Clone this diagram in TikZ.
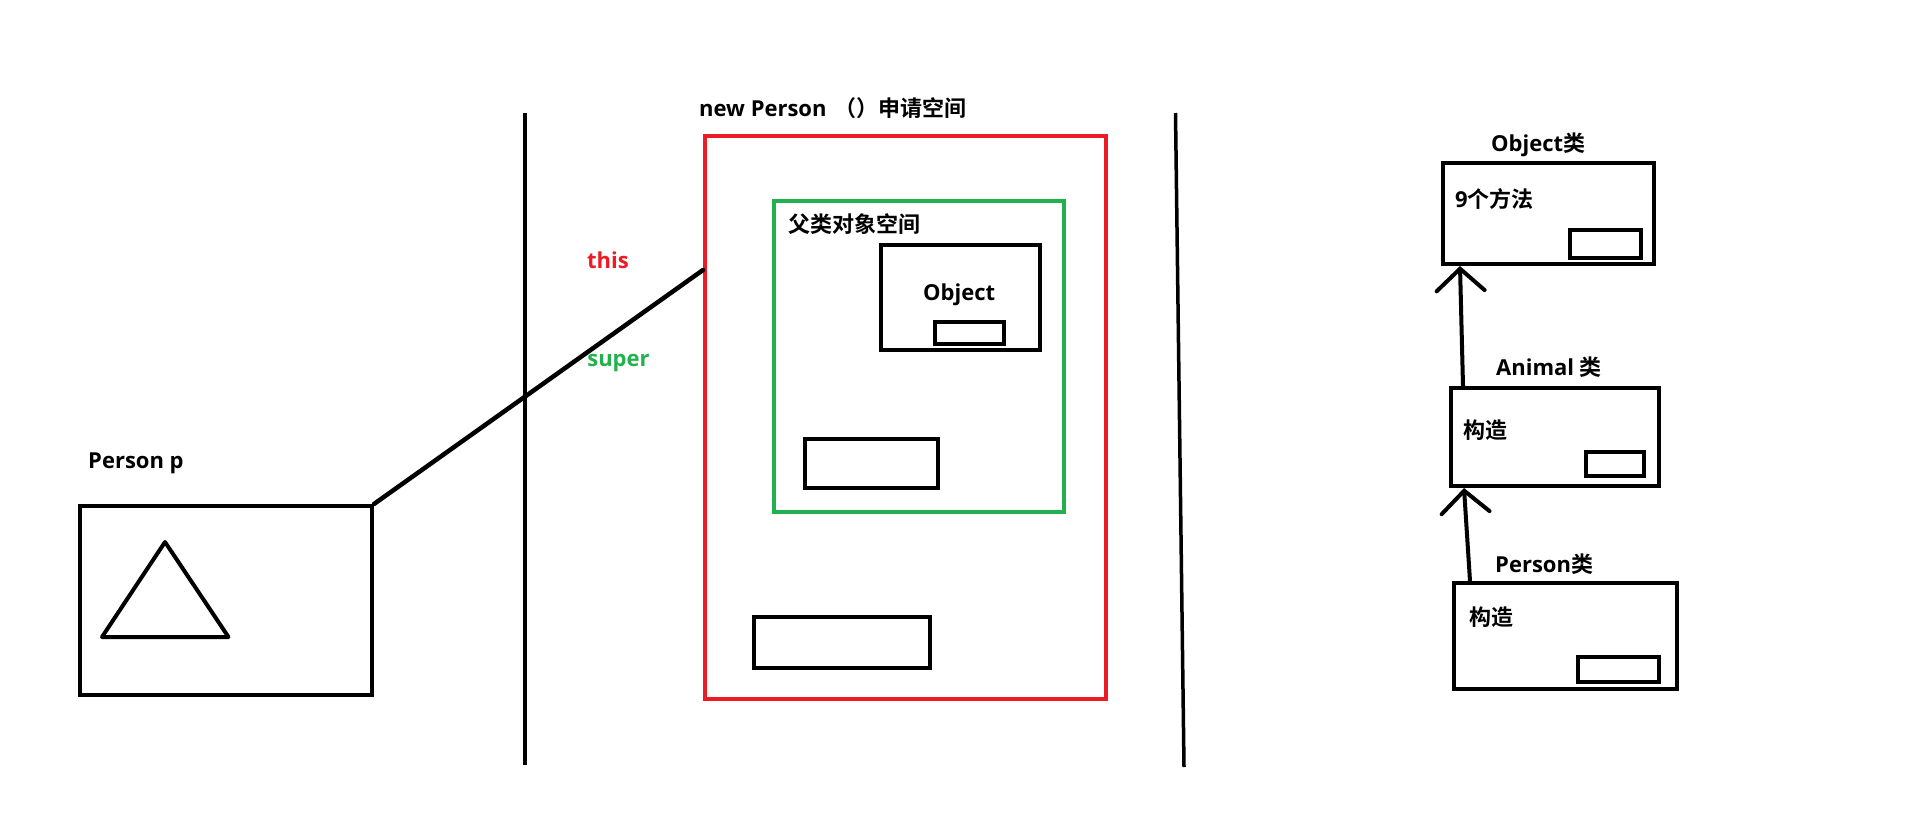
\documentclass[tikz,border=0pt]{standalone}
\usepackage{fontspec}
\setmainfont{Open Sans}
\newfontfamily\cjk{Noto Sans CJK SC}[BoldFont=* Bold]
\usetikzlibrary{arrows.meta}
\definecolor{pred}{HTML}{ED1C24}
\definecolor{pgreen}{HTML}{22B14C}
\begin{document}
\begin{tikzpicture}[x=1pt,y=-1pt,
  lbl/.style={inner sep=0pt,font=\fontsize{22}{26}\selectfont\bfseries},
  boxs/.style={draw,line width=4pt,inner sep=0pt,anchor=north west},
  vline/.style={line width=3.5pt},
  arr/.style={line width=4pt,-{Straight Barb[length=22pt,width=48pt,line cap=round]}}]
\useasboundingbox (0,0) rectangle (1914,817);
% dividers
\coordinate (v1t) at (525,113); \coordinate (v1b) at (525,765);
\coordinate (v2t) at (1175.5,113); \coordinate (v2b) at (1184,767);
\draw[vline] (v1t) -- (v1b);
\draw[vline] (v2t) -- (v2b);
% Person p
\node[lbl,anchor=base west] (plbl) at (88,468) {Person p};
\node[boxs,minimum width=292pt,minimum height=189pt] (pbox) at (78,504) {};
\coordinate (ta) at (165,542); \coordinate (tb) at (102,637); \coordinate (tc) at (228.5,637);
\draw[line width=4pt,line join=round] (ta) -- (tb) -- (tc) -- cycle;
% new Person
\node[lbl,anchor=base west] (newlbl) at (699,116) {new Person\hspace{8pt}{\cjk （）申请空间}};
\node[boxs,draw=pred,minimum width=401pt,minimum height=563pt] (redbox) at (703,134) {};
\node[boxs,draw=pgreen,minimum width=290pt,minimum height=311pt] (greenbox) at (772,199) {};
\node[lbl,anchor=base west] (fulbl) at (788,232) {\cjk 父类对象空间};
\node[boxs,minimum width=159pt,minimum height=105pt] (objbox) at (879,243) {};
\node[lbl,anchor=base west] (objlbl) at (923,300.7) {Object};
\node[boxs,minimum width=69pt,minimum height=22pt] (objsm) at (933,320) {};
\node[boxs,minimum width=133pt,minimum height=49pt] (grsm) at (803,437) {};
\node[boxs,minimum width=176pt,minimum height=51pt] (redsm) at (752,615) {};
\node[lbl,text=pred,anchor=base] (thislbl) at (608,268) {this};
\node[lbl,text=pgreen,anchor=base] (superlbl) at (618.5,366) {super};
\coordinate (thisend) at (703,270);
\draw[line width=4.5pt,line cap=round] (pbox.north east) -- (thisend);
% class chain
\node[lbl,anchor=base west] (oclbl) at (1491,151) {Object{\cjk 类}};
\node[boxs,minimum width=211pt,minimum height=101pt] (ocbox) at (1441,161) {};
\node[lbl,anchor=base west] (oc9) at (1455,207) {9{\cjk 个方法}};
\node[boxs,minimum width=71pt,minimum height=28pt] (ocsm) at (1568,228) {};
\node[lbl,anchor=base west] (anlbl) at (1496,375) {Animal {\cjk 类}};
\node[boxs,minimum width=208pt,minimum height=98pt] (anbox) at (1449,386) {};
\node[lbl,anchor=base west] (ancz) at (1463,438) {\cjk 构造};
\node[boxs,minimum width=58pt,minimum height=24pt] (ansm) at (1584,450) {};
\node[lbl,anchor=base west] (pelbl) at (1495,572) {Person{\cjk 类}};
\node[boxs,minimum width=223pt,minimum height=106pt] (pebox) at (1452,581) {};
\node[lbl,anchor=base west] (pecz) at (1469,625) {\cjk 构造};
\node[boxs,minimum width=81pt,minimum height=25pt] (pesm) at (1576,655) {};
\draw[arr] ([xshift=14pt]anbox.north west) -- ([xshift=19pt]ocbox.south west);
\draw[arr] ([xshift=18pt]pebox.north west) -- ([xshift=15pt]anbox.south west);
\end{tikzpicture}
\end{document}
